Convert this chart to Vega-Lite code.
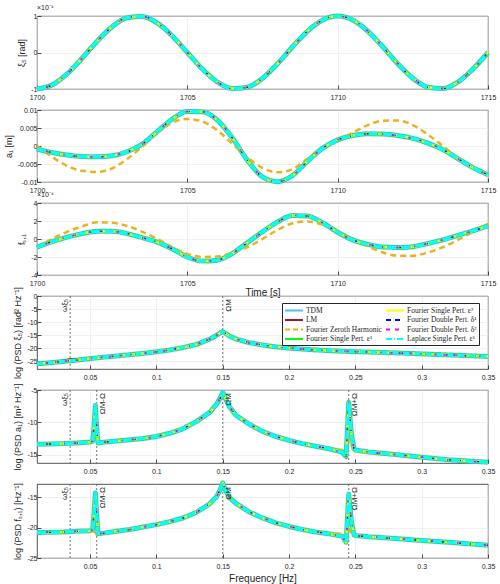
{
  "$schema": "https://vega.github.io/schema/vega-lite/v6.json",
  "background": "white",
  "padding": {"top": 3, "left": 3, "right": 8, "bottom": 3},
  "bounds": "flush",
  "spacing": 21,
  "resolve": {"scale": {"color": "independent", "strokeDash": "independent"}},
  "datasets": {
    "time": [
      {"t": 1700.0, "xi": -1, "a": -0.0009, "az": 0.0, "fs": -0.9, "fz": -0.9},
      {"t": 1700.5, "xi": -0.891, "a": -0.0018, "az": -0.003, "fs": -0.3, "fz": 0.0},
      {"t": 1701.0, "xi": -0.588, "a": -0.0025, "az": -0.0055, "fs": 0.2, "fz": 0.8},
      {"t": 1701.5, "xi": -0.156, "a": -0.0029, "az": -0.0069, "fs": 0.6, "fz": 1.4},
      {"t": 1702.0, "xi": 0.309, "a": -0.003, "az": -0.0072, "fs": 0.85, "fz": 1.85},
      {"t": 1702.5, "xi": 0.707, "a": -0.0027, "az": -0.0062, "fs": 0.85, "fz": 1.8},
      {"t": 1703.0, "xi": 0.951, "a": -0.0016, "az": -0.0036, "fs": 0.6, "fz": 1.45},
      {"t": 1703.5, "xi": 0.988, "a": 0.0005, "az": -0.0002, "fs": 0.15, "fz": 0.8},
      {"t": 1704.0, "xi": 0.809, "a": 0.004, "az": 0.0036, "fs": -0.35, "fz": 0.0},
      {"t": 1704.5, "xi": 0.454, "a": 0.0075, "az": 0.0065, "fs": -1.1, "fz": -0.9},
      {"t": 1705.0, "xi": 0.0, "a": 0.0096, "az": 0.0075, "fs": -2.0, "fz": -1.65},
      {"t": 1705.5, "xi": -0.454, "a": 0.0095, "az": 0.0068, "fs": -2.45, "fz": -2.0},
      {"t": 1706.0, "xi": -0.809, "a": 0.0072, "az": 0.0043, "fs": -2.35, "fz": -1.95},
      {"t": 1706.5, "xi": -0.988, "a": 0.0022, "az": 0.0006, "fs": -1.6, "fz": -1.5},
      {"t": 1707.0, "xi": -0.951, "a": -0.004, "az": -0.0032, "fs": -0.4, "fz": -0.9},
      {"t": 1707.5, "xi": -0.707, "a": -0.0086, "az": -0.0061, "fs": 0.8, "fz": 0.0},
      {"t": 1708.0, "xi": -0.309, "a": -0.0099, "az": -0.0073, "fs": 1.9, "fz": 1.0},
      {"t": 1708.5, "xi": 0.156, "a": -0.0082, "az": -0.0064, "fs": 2.6, "fz": 1.75},
      {"t": 1709.0, "xi": 0.588, "a": -0.0042, "az": -0.0035, "fs": 2.55, "fz": 1.95},
      {"t": 1709.5, "xi": 0.891, "a": -0.0006, "az": -0.0005, "fs": 1.8, "fz": 1.6},
      {"t": 1710.0, "xi": 1, "a": 0.0017, "az": 0.0015, "fs": 0.75, "fz": 0.9},
      {"t": 1710.5, "xi": 0.891, "a": 0.0029, "az": 0.0037, "fs": -0.1, "fz": 0.0},
      {"t": 1711.0, "xi": 0.588, "a": 0.0034, "az": 0.0058, "fs": -0.6, "fz": -0.8},
      {"t": 1711.5, "xi": 0.156, "a": 0.0033, "az": 0.007, "fs": -0.9, "fz": -1.5},
      {"t": 1712.0, "xi": -0.309, "a": 0.0029, "az": 0.0071, "fs": -0.95, "fz": -1.85},
      {"t": 1712.5, "xi": -0.707, "a": 0.0021, "az": 0.0058, "fs": -0.85, "fz": -1.85},
      {"t": 1713.0, "xi": -0.951, "a": 0.0008, "az": 0.0032, "fs": -0.5, "fz": -1.5},
      {"t": 1713.5, "xi": -0.988, "a": -0.001, "az": 0.0, "fs": -0.1, "fz": -0.9},
      {"t": 1714.0, "xi": -0.809, "a": -0.0035, "az": -0.0033, "fs": 0.4, "fz": -0.1},
      {"t": 1714.5, "xi": -0.454, "a": -0.006, "az": -0.006, "fs": 0.9, "fz": 0.8},
      {"t": 1715.0, "xi": 0.0, "a": -0.008, "az": -0.008, "fs": 1.45, "fz": 1.7}
    ],
    "psdxi": [
      {"f": 0.01, "m": -26.0, "lm": -26.0}, {"f": 0.02, "m": -25.6, "lm": -25.6}, {"f": 0.03, "m": -25.1, "lm": -24.9},
      {"f": 0.035, "m": -24.85, "lm": -24.3}, {"f": 0.04, "m": -24.6, "lm": -24.5},
      {"f": 0.05, "m": -24.0, "lm": -24.0}, {"f": 0.06, "m": -23.5, "lm": -23.5}, {"f": 0.07, "m": -23.0, "lm": -23.0}, {"f": 0.08, "m": -22.5, "lm": -22.5},
      {"f": 0.09, "m": -22.0, "lm": -22.0}, {"f": 0.1, "m": -21.4, "lm": -21.4}, {"f": 0.11, "m": -20.7, "lm": -20.7}, {"f": 0.12, "m": -19.8, "lm": -19.8},
      {"f": 0.13, "m": -18.6, "lm": -18.6}, {"f": 0.14, "m": -16.6, "lm": -16.6}, {"f": 0.145, "m": -15.2, "lm": -15.2}, {"f": 0.15, "m": -13.6, "lm": -13.6},
      {"f": 0.155, "m": -15.3, "lm": -15.3}, {"f": 0.16, "m": -16.5, "lm": -16.5}, {"f": 0.17, "m": -17.9, "lm": -17.9}, {"f": 0.18, "m": -18.8, "lm": -18.8},
      {"f": 0.19, "m": -19.5, "lm": -19.5}, {"f": 0.2, "m": -20.0, "lm": -20.0}, {"f": 0.22, "m": -20.7, "lm": -20.7}, {"f": 0.24, "m": -21.2, "lm": -21.2},
      {"f": 0.26, "m": -21.5, "lm": -21.5}, {"f": 0.28, "m": -21.8, "lm": -21.8}, {"f": 0.3, "m": -22.2, "lm": -22.2}, {"f": 0.32, "m": -22.6, "lm": -22.6},
      {"f": 0.35, "m": -23.2, "lm": -23.2}
    ],
    "psda": [
      {"f": 0.01, "m": -13.4, "z": -13.4}, {"f": 0.02, "m": -13.35, "z": -13.35}, {"f": 0.03, "m": -13.3, "z": -13.3},
      {"f": 0.04, "m": -13.2, "z": -13.2}, {"f": 0.05, "m": -13.05, "z": -13.05}, {"f": 0.052, "m": -12.9, "z": -12.9},
      {"f": 0.053, "m": -10.5, "z": -12.0}, {"f": 0.054, "m": -7.4, "z": -11.0}, {"f": 0.055, "m": -10.8, "z": -12.4},
      {"f": 0.056, "m": -13.2, "z": -13.1}, {"f": 0.06, "m": -13.1, "z": -13.1}, {"f": 0.07, "m": -12.9, "z": -12.9},
      {"f": 0.08, "m": -12.7, "z": -12.7}, {"f": 0.09, "m": -12.5, "z": -12.5}, {"f": 0.1, "m": -12.2, "z": -12.2},
      {"f": 0.11, "m": -11.7, "z": -11.7}, {"f": 0.12, "m": -11.0, "z": -11.0}, {"f": 0.13, "m": -9.9, "z": -9.9},
      {"f": 0.14, "m": -8.5, "z": -8.5}, {"f": 0.145, "m": -7.3, "z": -7.3}, {"f": 0.148, "m": -6.3, "z": -6.3},
      {"f": 0.15, "m": -5.4, "z": -5.4}, {"f": 0.152, "m": -6.3, "z": -6.3}, {"f": 0.155, "m": -7.6, "z": -7.6},
      {"f": 0.16, "m": -8.9, "z": -8.9}, {"f": 0.17, "m": -10.3, "z": -10.3}, {"f": 0.18, "m": -11.4, "z": -11.4},
      {"f": 0.19, "m": -12.2, "z": -12.2}, {"f": 0.2, "m": -12.8, "z": -12.8}, {"f": 0.21, "m": -13.3, "z": -13.3},
      {"f": 0.22, "m": -13.7, "z": -13.7}, {"f": 0.23, "m": -14.1, "z": -14.0}, {"f": 0.24, "m": -14.6, "z": -14.3},
      {"f": 0.243, "m": -15.3, "z": -14.4}, {"f": 0.245, "m": -6.9, "z": -11.5}, {"f": 0.247, "m": -11.8, "z": -13.6},
      {"f": 0.249, "m": -14.1, "z": -14.4}, {"f": 0.25, "m": -14.3, "z": -14.5}, {"f": 0.26, "m": -14.6, "z": -14.7},
      {"f": 0.28, "m": -15.0, "z": -15.0}, {"f": 0.3, "m": -15.4, "z": -15.4}, {"f": 0.32, "m": -15.8, "z": -15.8},
      {"f": 0.35, "m": -16.2, "z": -16.2}
    ],
    "psdf": [
      {"f": 0.01, "m": -20.8, "z": -20.8}, {"f": 0.02, "m": -20.75, "z": -20.75}, {"f": 0.03, "m": -20.7, "z": -20.7},
      {"f": 0.04, "m": -20.6, "z": -20.6}, {"f": 0.05, "m": -20.5, "z": -20.6}, {"f": 0.052, "m": -20.3, "z": -20.6},
      {"f": 0.053, "m": -17.5, "z": -20.7}, {"f": 0.054, "m": -14.3, "z": -20.8}, {"f": 0.055, "m": -17.8, "z": -21.2},
      {"f": 0.056, "m": -21.0, "z": -21.1}, {"f": 0.06, "m": -20.9, "z": -20.9}, {"f": 0.07, "m": -20.6, "z": -20.6},
      {"f": 0.08, "m": -20.3, "z": -20.3}, {"f": 0.09, "m": -19.9, "z": -19.9}, {"f": 0.1, "m": -19.5, "z": -19.5},
      {"f": 0.11, "m": -19.0, "z": -19.0}, {"f": 0.12, "m": -18.4, "z": -18.4}, {"f": 0.13, "m": -17.5, "z": -17.5},
      {"f": 0.14, "m": -16.1, "z": -16.1}, {"f": 0.145, "m": -15.0, "z": -15.0}, {"f": 0.148, "m": -13.8, "z": -13.8},
      {"f": 0.15, "m": -12.6, "z": -12.6}, {"f": 0.152, "m": -13.8, "z": -13.8}, {"f": 0.155, "m": -15.0, "z": -15.0},
      {"f": 0.16, "m": -16.0, "z": -16.0}, {"f": 0.17, "m": -17.4, "z": -17.4}, {"f": 0.18, "m": -18.4, "z": -18.4},
      {"f": 0.19, "m": -19.2, "z": -19.2}, {"f": 0.2, "m": -19.8, "z": -19.8}, {"f": 0.21, "m": -20.3, "z": -20.3},
      {"f": 0.22, "m": -20.7, "z": -20.7}, {"f": 0.23, "m": -21.0, "z": -20.9}, {"f": 0.24, "m": -21.4, "z": -21.0},
      {"f": 0.243, "m": -22.4, "z": -21.1}, {"f": 0.245, "m": -14.5, "z": -20.2}, {"f": 0.247, "m": -19.0, "z": -20.9},
      {"f": 0.249, "m": -21.2, "z": -21.3}, {"f": 0.25, "m": -21.3, "z": -21.4}, {"f": 0.26, "m": -21.5, "z": -21.5},
      {"f": 0.28, "m": -21.8, "z": -21.8}, {"f": 0.3, "m": -22.1, "z": -22.1}, {"f": 0.32, "m": -22.4, "z": -22.4},
      {"f": 0.35, "m": -22.9, "z": -22.9}
    ],
    "m4": [
      {"f": 0.035, "lab": "ωξ₅", "side": "l"},
      {"f": 0.15, "lab": "ΩM", "side": "r"}
    ],
    "m56": [
      {"f": 0.035, "lab": "ωξ₅", "side": "l"},
      {"f": 0.055, "lab": "ΩM-Ω", "side": "r"},
      {"f": 0.15, "lab": "ΩM", "side": "r"},
      {"f": 0.245, "lab": "ΩM+Ω", "side": "r"}
    ]
  },
  "vconcat": [
    {
      "width": 451, "height": 73,
      "title": {"text": "×10⁻⁴", "anchor": "start", "frame": "group", "fontSize": 7, "fontWeight": "normal", "offset": 1, "color": "#262626"},
      "data": {"name": "time"},
      "encoding": {"x": {"field": "t", "type": "quantitative", "scale": {"domain": [1700, 1715], "nice": false}, "axis": {"values": [1700, 1705, 1710, 1715], "format": "d", "title": null, "labelPadding": 8}}},
      "layer": [
        {"mark": {"type": "line", "color": "#4DBEEE", "strokeWidth": 5, "interpolate": "monotone"}, "encoding": {"y": {"field": "xi", "type": "quantitative", "title": "ξ₅ [rad]", "scale": {"domain": [-1, 1], "nice": false}, "axis": {"values": [-1, 0, 1], "tickCount": 20}}}},
        {"mark": {"type": "line", "color": "#A2142F", "strokeWidth": 2.5, "interpolate": "monotone"}, "encoding": {"y": {"field": "xi", "type": "quantitative"}}},
        {"mark": {"type": "line", "color": "#EDB120", "strokeWidth": 2.5, "strokeDash": [6, 4], "interpolate": "monotone"}, "encoding": {"y": {"field": "xi", "type": "quantitative"}}},
        {"mark": {"type": "line", "color": "#00FF00", "strokeWidth": 3.5, "interpolate": "monotone"}, "encoding": {"y": {"field": "xi", "type": "quantitative"}}},
        {"mark": {"type": "line", "color": "#FFFF00", "strokeWidth": 2.5, "interpolate": "monotone"}, "encoding": {"y": {"field": "xi", "type": "quantitative"}}},
        {"mark": {"type": "line", "color": "#0000FF", "strokeWidth": 1.5, "strokeDash": [5, 4], "interpolate": "monotone"}, "encoding": {"y": {"field": "xi", "type": "quantitative"}}},
        {"mark": {"type": "line", "color": "#FF00FF", "strokeWidth": 1.5, "strokeDash": [3, 6], "interpolate": "monotone"}, "encoding": {"y": {"field": "xi", "type": "quantitative"}}},
        {"mark": {"type": "line", "color": "#00FFFF", "strokeWidth": 3, "strokeDash": [9, 2, 1, 2], "interpolate": "monotone"}, "encoding": {"y": {"field": "xi", "type": "quantitative"}}}
      ]
    },
    {
      "width": 451, "height": 72,
      "data": {"name": "time"},
      "encoding": {"x": {"field": "t", "type": "quantitative", "scale": {"domain": [1700, 1715], "nice": false}, "axis": {"values": [1700, 1705, 1710, 1715], "format": "d", "title": null, "labelPadding": 8}}},
      "layer": [
        {"mark": {"type": "line", "color": "#4DBEEE", "strokeWidth": 5, "interpolate": "monotone"}, "encoding": {"y": {"field": "a", "type": "quantitative", "title": "a₁ [m]", "scale": {"domain": [-0.01, 0.01], "nice": false}, "axis": {"values": [-0.01, -0.005, 0, 0.005, 0.01], "tickCount": 20}}}},
        {"mark": {"type": "line", "color": "#A2142F", "strokeWidth": 2.5, "interpolate": "monotone"}, "encoding": {"y": {"field": "a", "type": "quantitative"}}},
        {"mark": {"type": "line", "color": "#EDB120", "strokeWidth": 2.5, "strokeDash": [6, 4], "interpolate": "monotone"}, "encoding": {"y": {"field": "az", "type": "quantitative", "title": "a₁ [m]"}}},
        {"mark": {"type": "line", "color": "#00FF00", "strokeWidth": 3.5, "interpolate": "monotone"}, "encoding": {"y": {"field": "a", "type": "quantitative"}}},
        {"mark": {"type": "line", "color": "#FFFF00", "strokeWidth": 2.5, "interpolate": "monotone"}, "encoding": {"y": {"field": "a", "type": "quantitative"}}},
        {"mark": {"type": "line", "color": "#0000FF", "strokeWidth": 1.5, "strokeDash": [5, 4], "interpolate": "monotone"}, "encoding": {"y": {"field": "a", "type": "quantitative"}}},
        {"mark": {"type": "line", "color": "#FF00FF", "strokeWidth": 1.5, "strokeDash": [3, 6], "interpolate": "monotone"}, "encoding": {"y": {"field": "a", "type": "quantitative"}}},
        {"mark": {"type": "line", "color": "#00FFFF", "strokeWidth": 3, "strokeDash": [9, 2, 1, 2], "interpolate": "monotone"}, "encoding": {"y": {"field": "a", "type": "quantitative"}}}
      ]
    },
    {
      "width": 451, "height": 72,
      "title": {"text": "×10⁻⁴", "anchor": "start", "frame": "group", "fontSize": 7, "fontWeight": "normal", "offset": 1, "color": "#262626"},
      "data": {"name": "time"},
      "encoding": {"x": {"field": "t", "type": "quantitative", "scale": {"domain": [1700, 1715], "nice": false}, "axis": {"values": [1700, 1705, 1710, 1715], "format": "d", "title": "Time [s]", "titleFontSize": 10, "titlePadding": 1, "labelPadding": 8}}},
      "layer": [
        {"mark": {"type": "line", "color": "#4DBEEE", "strokeWidth": 5, "interpolate": "monotone"}, "encoding": {"y": {"field": "fs", "type": "quantitative", "title": "fₛ,₁", "scale": {"domain": [-4, 4], "nice": false}, "axis": {"values": [-4, -2, 0, 2, 4], "tickCount": 20}}}},
        {"mark": {"type": "line", "color": "#A2142F", "strokeWidth": 2.5, "interpolate": "monotone"}, "encoding": {"y": {"field": "fs", "type": "quantitative"}}},
        {"mark": {"type": "line", "color": "#EDB120", "strokeWidth": 2.5, "strokeDash": [6, 4], "interpolate": "monotone"}, "encoding": {"y": {"field": "fz", "type": "quantitative", "title": "fₛ,₁"}}},
        {"mark": {"type": "line", "color": "#00FF00", "strokeWidth": 3.5, "interpolate": "monotone"}, "encoding": {"y": {"field": "fs", "type": "quantitative"}}},
        {"mark": {"type": "line", "color": "#FFFF00", "strokeWidth": 2.5, "interpolate": "monotone"}, "encoding": {"y": {"field": "fs", "type": "quantitative"}}},
        {"mark": {"type": "line", "color": "#0000FF", "strokeWidth": 1.5, "strokeDash": [5, 4], "interpolate": "monotone"}, "encoding": {"y": {"field": "fs", "type": "quantitative"}}},
        {"mark": {"type": "line", "color": "#FF00FF", "strokeWidth": 1.5, "strokeDash": [3, 6], "interpolate": "monotone"}, "encoding": {"y": {"field": "fs", "type": "quantitative"}}},
        {"mark": {"type": "line", "color": "#00FFFF", "strokeWidth": 3, "strokeDash": [9, 2, 1, 2], "interpolate": "monotone"}, "encoding": {"y": {"field": "fs", "type": "quantitative"}}}
      ]
    },
    {
      "width": 451, "height": 73,
      "data": {"name": "psdxi"},
      "encoding": {"x": {"field": "f", "type": "quantitative", "scale": {"domain": [0.01, 0.35], "nice": false}, "axis": {"values": [0.05, 0.1, 0.15, 0.2, 0.25, 0.3, 0.35], "format": "~g", "title": null, "labelPadding": 8}}},
      "layer": [
        {"data": {"name": "m4"}, "mark": {"type": "rule", "color": "#555555", "strokeWidth": 0.8, "strokeDash": [2, 2]}, "encoding": {}},
        {
          "mark": {"type": "line", "strokeWidth": 5},
          "encoding": {
            "y": {"field": "m", "type": "quantitative", "title": "log (PSD ξ₅) [rad² Hz⁻¹]", "scale": {"domain": [-28, 0], "nice": false}, "axis": {"values": [-25, -20, -15, -10, -5, 0], "tickCount": 20}},
            "color": {"datum": "TDM", "type": "nominal",
              "scale": {"domain": ["TDM", "LM", "Fourier Zeroth Harmonic", "Fourier Single Pert. ε¹", "Fourier Single Pert. ε²", "Fourier Double Pert. δ¹", "Fourier Double Pert. δ²", "Laplace Single Pert. ε¹"],
                        "range": ["#4DBEEE", "#A2142F", "#EDB120", "#00FF00", "#FFFF00", "#0000FF", "#FF00FF", "#00FFFF"]},
              "legend": {"title": null, "orient": "none", "legendX": 245, "legendY": 7, "columns": 2, "columnPadding": 3, "rowPadding": 0.5, "symbolType": "M-1,0H3", "symbolSize": 81, "symbolStrokeWidth": 2, "labelFont": "Liberation Serif", "labelFontSize": 7.5, "labelOffset": 11, "labelColor": "#262626", "fillColor": "white", "strokeColor": "#262626", "padding": 2, "labelLimit": 200}},
            "strokeDash": {"datum": "TDM", "type": "nominal",
              "scale": {"domain": ["TDM", "LM", "Fourier Zeroth Harmonic", "Fourier Single Pert. ε¹", "Fourier Single Pert. ε²", "Fourier Double Pert. δ¹", "Fourier Double Pert. δ²", "Laplace Single Pert. ε¹"],
                        "range": [[1, 0], [1, 0], [5, 3], [1, 0], [1, 0], [5, 4], [4, 5], [6, 2, 1, 2]]},
              "legend": {"title": null, "orient": "none", "legendX": 245, "legendY": 7, "columns": 2, "columnPadding": 3, "rowPadding": 0.5, "symbolType": "M-1,0H3", "symbolSize": 81, "symbolStrokeWidth": 2, "labelFont": "Liberation Serif", "labelFontSize": 7.5, "labelOffset": 11, "labelColor": "#262626", "fillColor": "white", "strokeColor": "#262626", "padding": 2, "labelLimit": 200}}
          }
        },
        {"mark": {"type": "line", "strokeWidth": 2.5}, "encoding": {"y": {"field": "lm", "type": "quantitative", "title": "log (PSD ξ₅) [rad² Hz⁻¹]"}, "color": {"datum": "LM", "type": "nominal"}, "strokeDash": {"datum": "LM", "type": "nominal"}}},
        {"mark": {"type": "line", "strokeWidth": 2.5}, "encoding": {"y": {"field": "m", "type": "quantitative"}, "color": {"datum": "Fourier Zeroth Harmonic", "type": "nominal"}, "strokeDash": {"datum": "Fourier Zeroth Harmonic", "type": "nominal"}}},
        {"mark": {"type": "line", "strokeWidth": 3.5}, "encoding": {"y": {"field": "m", "type": "quantitative"}, "color": {"datum": "Fourier Single Pert. ε¹", "type": "nominal"}, "strokeDash": {"datum": "Fourier Single Pert. ε¹", "type": "nominal"}}},
        {"mark": {"type": "line", "strokeWidth": 2.5}, "encoding": {"y": {"field": "m", "type": "quantitative"}, "color": {"datum": "Fourier Single Pert. ε²", "type": "nominal"}, "strokeDash": {"datum": "Fourier Single Pert. ε²", "type": "nominal"}}},
        {"mark": {"type": "line", "strokeWidth": 1.5}, "encoding": {"y": {"field": "m", "type": "quantitative"}, "color": {"datum": "Fourier Double Pert. δ¹", "type": "nominal"}, "strokeDash": {"datum": "Fourier Double Pert. δ¹", "type": "nominal"}}},
        {"mark": {"type": "line", "strokeWidth": 1.5}, "encoding": {"y": {"field": "m", "type": "quantitative"}, "color": {"datum": "Fourier Double Pert. δ²", "type": "nominal"}, "strokeDash": {"datum": "Fourier Double Pert. δ²", "type": "nominal"}}},
        {"mark": {"type": "line", "strokeWidth": 3}, "encoding": {"y": {"field": "m", "type": "quantitative"}, "color": {"datum": "Laplace Single Pert. ε¹", "type": "nominal"}, "strokeDash": {"datum": "Laplace Single Pert. ε¹", "type": "nominal"}}},
        {"data": {"name": "m4"}, "transform": [{"filter": "datum.side == 'l'"}], "mark": {"type": "text", "angle": 270, "align": "right", "baseline": "bottom", "dx": -3, "dy": -1, "fontSize": 8, "color": "#262626"}, "encoding": {"y": {"datum": 0}, "text": {"field": "lab"}}},
        {"data": {"name": "m4"}, "transform": [{"filter": "datum.side == 'r'"}], "mark": {"type": "text", "angle": 270, "align": "right", "baseline": "top", "dx": -3, "dy": 2, "fontSize": 8, "color": "#262626"}, "encoding": {"y": {"datum": 0}, "text": {"field": "lab"}}}
      ]
    },
    {
      "width": 451, "height": 73,
      "data": {"name": "psda"},
      "encoding": {"x": {"field": "f", "type": "quantitative", "scale": {"domain": [0.01, 0.35], "nice": false}, "axis": {"values": [0.05, 0.1, 0.15, 0.2, 0.25, 0.3, 0.35], "format": "~g", "title": null, "labelPadding": 8}}},
      "layer": [
        {"data": {"name": "m56"}, "mark": {"type": "rule", "color": "#555555", "strokeWidth": 0.8, "strokeDash": [2, 2]}, "encoding": {}},
        {"mark": {"type": "line", "color": "#4DBEEE", "strokeWidth": 5}, "encoding": {"y": {"field": "m", "type": "quantitative", "title": "log (PSD a₁) [m² Hz⁻¹]", "scale": {"domain": [-16.3, -5], "nice": false}, "axis": {"values": [-15, -10, -5], "tickCount": 20}}}},
        {"mark": {"type": "line", "color": "#A2142F", "strokeWidth": 2.5}, "encoding": {"y": {"field": "m", "type": "quantitative"}}},
        {"mark": {"type": "line", "color": "#EDB120", "strokeWidth": 2.5, "strokeDash": [5, 3]}, "encoding": {"y": {"field": "z", "type": "quantitative", "title": "log (PSD a₁) [m² Hz⁻¹]"}}},
        {"mark": {"type": "line", "color": "#00FF00", "strokeWidth": 3.5}, "encoding": {"y": {"field": "m", "type": "quantitative"}}},
        {"mark": {"type": "line", "color": "#FFFF00", "strokeWidth": 2.5}, "encoding": {"y": {"field": "m", "type": "quantitative"}}},
        {"mark": {"type": "line", "color": "#0000FF", "strokeWidth": 1.5, "strokeDash": [5, 4]}, "encoding": {"y": {"field": "m", "type": "quantitative"}}},
        {"mark": {"type": "line", "color": "#FF00FF", "strokeWidth": 1.5, "strokeDash": [3, 6]}, "encoding": {"y": {"field": "m", "type": "quantitative"}}},
        {"mark": {"type": "line", "color": "#00FFFF", "strokeWidth": 3, "strokeDash": [9, 2, 1, 2]}, "encoding": {"y": {"field": "m", "type": "quantitative"}}},
        {"data": {"name": "m56"}, "transform": [{"filter": "datum.side == 'l'"}], "mark": {"type": "text", "angle": 270, "align": "right", "baseline": "bottom", "dx": -3, "dy": -1, "fontSize": 8, "color": "#262626"}, "encoding": {"y": {"datum": -5}, "text": {"field": "lab"}}},
        {"data": {"name": "m56"}, "transform": [{"filter": "datum.side == 'r'"}], "mark": {"type": "text", "angle": 270, "align": "right", "baseline": "top", "dx": -3, "dy": 2, "fontSize": 8, "color": "#262626"}, "encoding": {"y": {"datum": -5}, "text": {"field": "lab"}}}
      ]
    },
    {
      "width": 451, "height": 74,
      "data": {"name": "psdf"},
      "encoding": {"x": {"field": "f", "type": "quantitative", "scale": {"domain": [0.01, 0.35], "nice": false}, "axis": {"values": [0.05, 0.1, 0.15, 0.2, 0.25, 0.3, 0.35], "format": "~g", "title": "Frequency [Hz]", "titleFontSize": 10, "labelPadding": 8}}},
      "layer": [
        {"data": {"name": "m56"}, "mark": {"type": "rule", "color": "#555555", "strokeWidth": 0.8, "strokeDash": [2, 2]}, "encoding": {}},
        {"mark": {"type": "line", "color": "#4DBEEE", "strokeWidth": 5}, "encoding": {"y": {"field": "m", "type": "quantitative", "title": "log (PSD fₛ,₁) [Hz⁻¹]", "scale": {"domain": [-25, -12.8], "nice": false}, "axis": {"values": [-25, -20, -15], "tickCount": 20}}}},
        {"mark": {"type": "line", "color": "#A2142F", "strokeWidth": 2.5}, "encoding": {"y": {"field": "m", "type": "quantitative"}}},
        {"mark": {"type": "line", "color": "#EDB120", "strokeWidth": 2.5, "strokeDash": [5, 3]}, "encoding": {"y": {"field": "z", "type": "quantitative", "title": "log (PSD fₛ,₁) [Hz⁻¹]"}}},
        {"mark": {"type": "line", "color": "#00FF00", "strokeWidth": 3.5}, "encoding": {"y": {"field": "m", "type": "quantitative"}}},
        {"mark": {"type": "line", "color": "#FFFF00", "strokeWidth": 2.5}, "encoding": {"y": {"field": "m", "type": "quantitative"}}},
        {"mark": {"type": "line", "color": "#0000FF", "strokeWidth": 1.5, "strokeDash": [5, 4]}, "encoding": {"y": {"field": "m", "type": "quantitative"}}},
        {"mark": {"type": "line", "color": "#FF00FF", "strokeWidth": 1.5, "strokeDash": [3, 6]}, "encoding": {"y": {"field": "m", "type": "quantitative"}}},
        {"mark": {"type": "line", "color": "#00FFFF", "strokeWidth": 3, "strokeDash": [9, 2, 1, 2]}, "encoding": {"y": {"field": "m", "type": "quantitative"}}},
        {"data": {"name": "m56"}, "transform": [{"filter": "datum.side == 'l'"}], "mark": {"type": "text", "angle": 270, "align": "right", "baseline": "bottom", "dx": -3, "dy": -1, "fontSize": 8, "color": "#262626"}, "encoding": {"y": {"datum": -12.8}, "text": {"field": "lab"}}},
        {"data": {"name": "m56"}, "transform": [{"filter": "datum.side == 'r'"}], "mark": {"type": "text", "angle": 270, "align": "right", "baseline": "top", "dx": -3, "dy": 2, "fontSize": 8, "color": "#262626"}, "encoding": {"y": {"datum": -12.8}, "text": {"field": "lab"}}}
      ]
    }
  ],
  "config": {
    "font": "Liberation Sans",
    "view": {"stroke": "#262626", "strokeWidth": 0.8},
    "axis": {"domain": false, "grid": true, "gridColor": "#e6e6e6", "gridWidth": 0.6, "tickColor": "#262626", "tickSize": -4, "tickWidth": 0.8, "labelFontSize": 7, "labelColor": "#262626", "labelPadding": 2, "labelOverlap": false, "labelFlush": false, "titleFontSize": 9, "titleFontWeight": "normal", "titleColor": "#262626", "titlePadding": 4},
    "axisY": {"labelExpr": "replace(format(datum.value, '~g'), '−', '-')", "labelPadding": 4},
    "line": {"clip": true, "strokeJoin": "round"},
    "rule": {"clip": true}
  }
}
